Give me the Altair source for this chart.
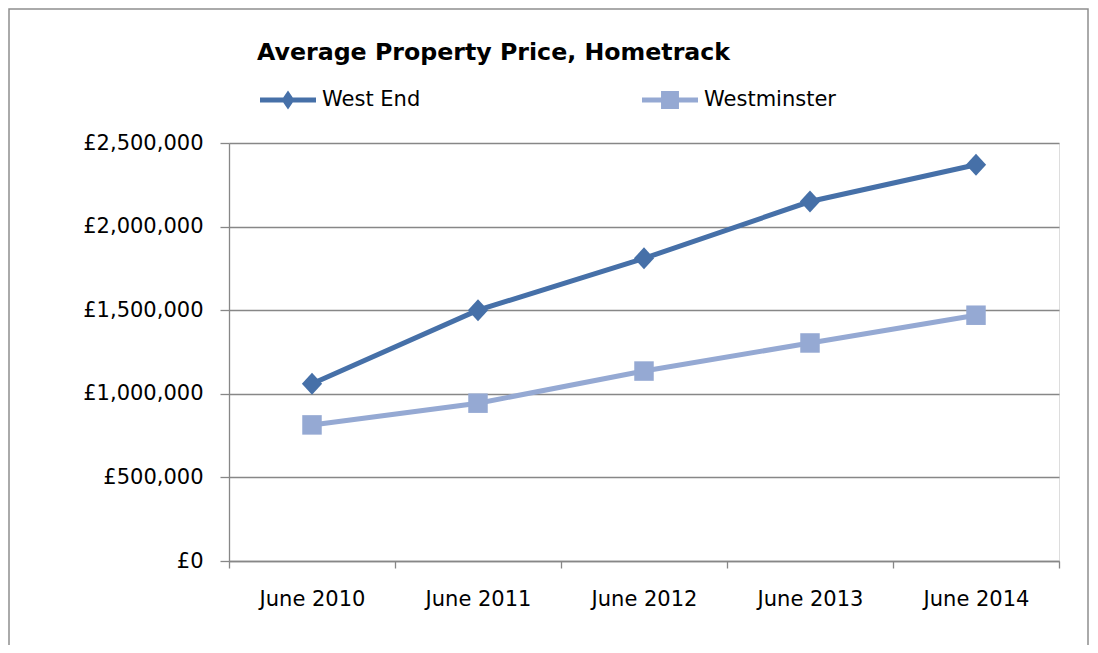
import altair as alt
import pandas as pd

periods = ["June 2010", "June 2011", "June 2012", "June 2013", "June 2014"]
series_names = ["West End", "Westminster"]
west_end = [1060000, 1500000, 1810000, 2150000, 2370000]
westminster = [814000, 944000, 1136000, 1304000, 1470000]
y_ticks = [0, 500000, 1000000, 1500000, 2000000, 2500000]
title_text = "Average Property Price, Hometrack"

rows = []
for p, a, b in zip(periods, west_end, westminster):
    rows.append({"period": p, "series": series_names[0], "value": a})
    rows.append({"period": p, "series": series_names[1], "value": b})
df = pd.DataFrame(rows)

COLORS = ["#4670A8", "#95A9D3"]
GRAY = "#878787"
FONT = "DejaVu Sans"

PT_DIAMOND = "M0,-1L0.92,0L0,1L-0.92,0Z"
LEG_D = "M-1,-0.09H1V0.09H-1Z M0,-0.34L0.23,0L0,0.34L-0.23,0Z"
LEG_S = "M-1,-0.09H1V0.09H-1Z M-0.32,-0.32H0.32V0.32H-0.32Z"

x_enc = alt.X(
    "period:N", sort=periods,
    scale=alt.Scale(type="band", paddingInner=0, paddingOuter=0),
    axis=alt.Axis(title=None, labelAngle=0, tickBand="extent", domainColor=GRAY,
                  tickColor=GRAY, tickSize=7, labelPadding=20, labelFont=FONT,
                  labelFontSize=21, labelColor="black", grid=False,
                  domainWidth=1.3, tickWidth=1.3),
)
y_enc = alt.Y(
    "value:Q",
    scale=alt.Scale(domain=[0, 2500000], nice=False, zero=True),
    axis=alt.Axis(title=None, values=y_ticks,
                  labelExpr="'£' + format(datum.value, ',')",
                  grid=True, gridColor=GRAY, gridWidth=1.3, domainColor=GRAY,
                  tickColor=GRAY, tickSize=9, labelPadding=17, labelFont=FONT,
                  labelFontSize=21, labelColor="black", domainWidth=1.3,
                  tickWidth=1.3),
)
color_scale = alt.Scale(domain=series_names, range=COLORS)
color_plain = alt.Color("series:N", scale=color_scale)

legend_def = alt.Legend(
    orient="none", legendX=31, legendY=-71, direction="horizontal", title=None,
    labelFont=FONT, labelFontSize=21, labelColor="black", labelOffset=6,
    symbolSize=3136, columnPadding=221, symbolStrokeWidth=0, labelLimit=400,
    symbolOpacity=1,
)

frame = alt.Chart(pd.DataFrame({"f": [0]})).mark_rect(
    fill="transparent", stroke="#8E8E8E", strokeWidth=1.5
).encode(
    x=alt.value(-220), x2=alt.value(859), y=alt.value(-134), y2=alt.value(540)
)

base = alt.Chart(df)

# layer without visible marks that only supplies the legend (line + marker symbols)
legend_layer = base.transform_filter("false").mark_point(
    filled=True, opacity=1, strokeWidth=0
).encode(
    x=x_enc, y=y_enc,
    color=alt.Color("series:N", scale=color_scale, legend=legend_def),
    shape=alt.Shape("series:N", scale=alt.Scale(domain=series_names, range=[LEG_D, LEG_S]),
                    legend=legend_def),
)

lines = base.mark_line(strokeWidth=5).encode(x=x_enc, y=y_enc, color=color_plain)

pts_d = base.transform_filter(alt.datum.series == series_names[0]).mark_point(
    filled=True, opacity=1, shape=PT_DIAMOND, size=484, strokeWidth=0
).encode(x=x_enc, y=y_enc, color=color_plain)

pts_s = base.transform_filter(alt.datum.series == series_names[1]).mark_point(
    filled=True, opacity=1, shape="square", size=380, strokeWidth=0
).encode(x=x_enc, y=y_enc, color=color_plain)

chart = alt.layer(frame, legend_layer, lines, pts_d, pts_s).properties(
    width=830, height=418,
    autosize=alt.AutoSizeParams(type="none"),
    padding={"left": 221, "top": 135, "right": 31, "bottom": 84},
    title=alt.Title(title_text, anchor="start", frame="group", font=FONT,
                    fontSize=23.7, fontWeight="bold", color="black", dx=28,
                    offset=-75, baseline="alphabetic"),
).configure_view(strokeWidth=0).configure(background="white")

chart.save("out.html", embed_options={"renderer": "svg", "actions": False})
